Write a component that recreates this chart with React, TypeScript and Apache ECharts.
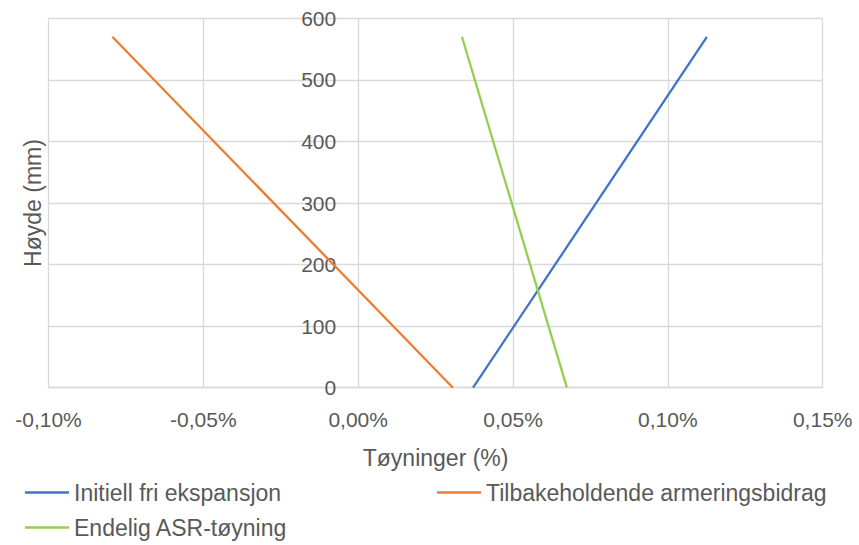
import React, { useEffect, useRef } from "react";
import * as echarts from "echarts";

// Height levels (mm) at which strain is given
const heights = [0, 570];
// Strain (%) at each height level
const initialFree = [0.0371, 0.1126];
const restraint = [0.0306, -0.0794];
const finalAsr = [0.0674, 0.0335];

const seriesNames = [
  "Initiell fri ekspansjon",
  "Tilbakeholdende armeringsbidrag",
  "Endelig ASR-tøyning",
];
const seriesColors = ["#4472C4", "#ED7D31", "#92D050"];

const xTicks = { min: -0.1, max: 0.15, step: 0.05 };
const yTicks = { min: 0, max: 600, step: 100 };

const FONT = "Liberation Sans";
const TEXT = "#595959";
const GRID = "#d9d9d9";

const W = 859;
const H = 545;
const gridBox = { left: 48.5, top: 18.3, right: 36.3, bottom: 157.3 };

const toPairs = (xs: number[]) => xs.map((x, i) => [x, heights[i]]);
const fmtPct = (v: number) => {
  const s = (Math.abs(v) < 1e-9 ? 0 : v).toFixed(2).replace(".", ",");
  return s + "%";
};

export default function App() {
  const ref = useRef<HTMLDivElement>(null);

  useEffect(() => {
    if (!ref.current) return;
    const chart = echarts.init(ref.current, undefined, { renderer: "svg" });
    const values = [initialFree, restraint, finalAsr];

    // The vertical axis sits where strain is zero
    const plotW = W - gridBox.left - gridBox.right;
    const zeroShift = ((0 - xTicks.min) / (xTicks.max - xTicks.min)) * plotW;

    const legendPos = [
      { left: 25, top: 481 },
      { left: 437, top: 481 },
      { left: 25, top: 516 },
    ];

    chart.setOption({
      animation: false,
      backgroundColor: "#ffffff",
      textStyle: { fontFamily: FONT, color: TEXT },
      grid: {
        ...gridBox,
        containLabel: false,
        outerBoundsMode: "none",
      },
      legend: seriesNames.map((name, i) => ({
        data: [name],
        left: legendPos[i].left,
        top: legendPos[i].top,
        icon: "rect",
        itemWidth: 44,
        itemHeight: 2.5,
        itemGap: 0,
        padding: 0,
        textStyle: { fontFamily: FONT, fontSize: 23, color: TEXT },
        selectedMode: false,
      })),
      xAxis: {
        type: "value",
        min: xTicks.min,
        max: xTicks.max,
        interval: xTicks.step,
        name: "Tøyninger (%)",
        nameLocation: "middle",
        nameGap: 59,
        nameTextStyle: { fontFamily: FONT, fontSize: 23, color: TEXT },
        axisLine: { show: true, onZero: false, lineStyle: { color: GRID, width: 1.3 } },
        axisTick: { show: false },
        axisLabel: {
          formatter: fmtPct,
          fontFamily: FONT,
          fontSize: 21,
          color: TEXT,
          margin: 21,
        },
        splitLine: { show: true, lineStyle: { color: GRID, width: 1.3 } },
      },
      yAxis: {
        type: "value",
        min: yTicks.min,
        max: yTicks.max,
        interval: yTicks.step,
        offset: -zeroShift,
        axisLine: { show: false, onZero: false },
        axisTick: { show: false },
        axisLabel: {
          fontFamily: FONT,
          fontSize: 21,
          color: TEXT,
          margin: 22,
        },
        splitLine: { show: true, lineStyle: { color: GRID, width: 1.3 } },
      },
      graphic: [
        {
          type: "text",
          x: 33,
          y: 203,
          rotation: Math.PI / 2,
          style: {
            text: "Høyde (mm)",
            fontFamily: FONT,
            fontSize: 23,
            fill: TEXT,
            textAlign: "center",
            textVerticalAlign: "middle",
          },
        },
      ],
      series: seriesNames.map((name, i) => ({
        name,
        type: "line",
        data: toPairs(values[i]),
        showSymbol: false,
        symbol: "none",
        color: seriesColors[i],
        lineStyle: { color: seriesColors[i], width: 2.3 },
      })),
    });

    return () => chart.dispose();
  }, []);

  return (
    <div
      ref={ref}
      style={{ position: "fixed", left: 0, top: 0, width: W, height: H }}
    />
  );
}
